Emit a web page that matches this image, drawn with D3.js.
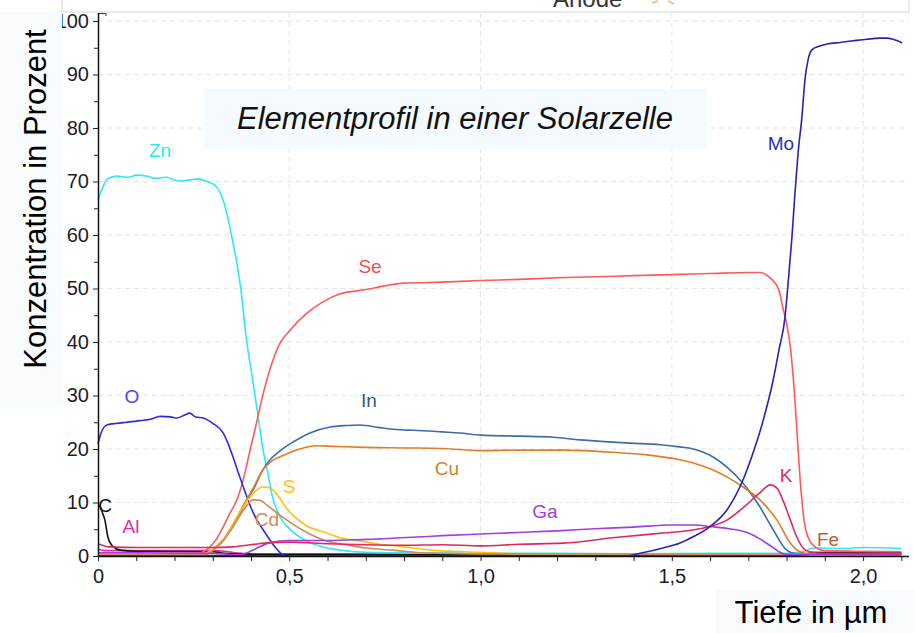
<!DOCTYPE html>
<html><head><meta charset="utf-8">
<script src="https://cdn.jsdelivr.net/npm/d3@7"></script>
<style>body{margin:0;background:#fff;} svg{display:block;font-family:"Liberation Sans",Arial,sans-serif;}</style>
</head><body><svg id="c" width="914" height="633"></svg>
<script>
// ---- data: [depth in µm, concentration in %] ----
const fe = [[0,0.1],[1.8,0.1],[1.84,0.3],[1.87,0.7],[2.1,0.6]];
const al = [[0,1.3],[0.02,1.0],[0.1,1.0],[0.3,1.0],[0.33,0.9],[0.36,0.6],[0.4,0.4],[0.5,0.3],[2.1,0.3]];
const c  = [[0,9.5],[0.005,9.3],[0.012,8],[0.018,6.7],[0.026,3.5],[0.04,1.7],[0.058,1.1],[0.1,0.9],[0.3,0.8],[0.33,0.5],[0.4,0.3],[0.6,0.3],[1.0,0.2],[1.85,0.2],[1.88,0.6],[2.0,0.6],[2.1,0.5]];
const zn = [[0,66.5],[0.01,68.5],[0.025,70.5],[0.05,71],[0.08,70.8],[0.1,71.2],[0.13,71],[0.15,70.6],[0.18,70.8],[0.2,70.3],[0.22,70.1],[0.24,70.3],[0.26,70.5],[0.285,70],[0.306,69.3],[0.322,67.5],[0.337,64],[0.353,58.5],[0.366,53.5],[0.376,48.4],[0.384,42.8],[0.392,38.5],[0.403,33.5],[0.416,27.3],[0.43,20.5],[0.442,16.2],[0.457,10.8],[0.47,8.2],[0.481,6.7],[0.505,4.8],[0.528,3.5],[0.558,2.4],[0.588,1.7],[0.633,1.1],[0.7,0.7],[0.8,0.6],[1.0,0.5],[1.2,0.5],[1.4,0.4],[1.6,0.5],[1.8,0.5],[1.84,0.7],[1.87,1.5],[1.95,1.4],[2.0,1.6],[2.1,1.4]];
const se = [[0,0.2],[0.25,0.2],[0.27,0.6],[0.293,1.7],[0.31,3.2],[0.327,5.4],[0.345,8],[0.363,10.5],[0.384,15.5],[0.395,19],[0.41,23.5],[0.429,29.5],[0.449,34.8],[0.476,39.8],[0.502,42.2],[0.546,45.4],[0.588,47.5],[0.633,49],[0.7,49.8],[0.75,50.5],[0.8,51],[0.9,51.2],[1.0,51.5],[1.1,51.7],[1.2,52],[1.3,52.2],[1.4,52.4],[1.5,52.6],[1.6,52.8],[1.7,53],[1.73,53],[1.757,52],[1.78,49.7],[1.79,46.5],[1.8,43.5],[1.81,39],[1.822,29],[1.83,20],[1.838,12],[1.846,6.5],[1.856,3.5],[1.87,2],[1.9,1],[2.1,0.8]];
const o  = [[0,21],[0.008,23],[0.023,24.5],[0.05,24.8],[0.075,25],[0.11,25.3],[0.14,25.6],[0.162,26.1],[0.19,26],[0.206,25.8],[0.225,26.3],[0.24,26.7],[0.255,26],[0.275,25.8],[0.3,24.8],[0.327,23],[0.34,21],[0.353,18.5],[0.367,15.5],[0.38,12.9],[0.405,8.2],[0.44,4],[0.465,1.5],[0.484,0.2],[0.5,0]];
const inn = [[0,0],[0.27,0],[0.293,0.8],[0.31,1.8],[0.327,3],[0.34,4.2],[0.353,5.5],[0.367,7.3],[0.38,9.2],[0.392,10.8],[0.405,12.3],[0.43,16],[0.45,18],[0.468,19.2],[0.49,20.4],[0.51,21.3],[0.554,23],[0.607,24.1],[0.65,24.4],[0.685,24.5],[0.737,24],[0.79,23.6],[0.825,23.5],[0.9,23.2],[0.946,23],[1.0,22.6],[1.1,22.4],[1.19,22.2],[1.26,21.7],[1.39,21.1],[1.47,20.8],[1.52,20.4],[1.556,20],[1.608,18.5],[1.644,16.6],[1.686,13.6],[1.73,9.2],[1.765,4.9],[1.8,1.1],[1.827,0.4],[1.9,0.3],[2.1,0.3]];
const cu = [[0,0],[0.27,0],[0.293,0.8],[0.31,1.8],[0.327,3],[0.353,5.8],[0.38,9.5],[0.405,12.6],[0.43,16],[0.455,17.8],[0.484,18.8],[0.528,20],[0.572,20.6],[0.614,20.5],[0.7,20.3],[0.8,20.2],[0.9,20.1],[1.0,19.7],[1.1,19.8],[1.215,19.8],[1.346,19.4],[1.435,18.9],[1.52,18],[1.556,17.4],[1.6,16.3],[1.644,14.8],[1.686,12.9],[1.73,10.5],[1.775,6.7],[1.81,2.4],[1.835,0.8],[1.87,0.3],[2.1,0.3]];
const s  = [[0,0.3],[0.27,0.3],[0.293,1],[0.327,3],[0.363,7.3],[0.392,10.5],[0.41,12],[0.43,12.9],[0.445,12.8],[0.458,12.3],[0.475,10.8],[0.494,8.8],[0.51,7.6],[0.546,5.6],[0.59,4.5],[0.633,3.4],[0.685,2.8],[0.737,2.2],[0.79,1.8],[0.87,1.1],[1.0,0.7],[1.1,0.4],[1.5,0.3],[1.8,0.3],[2.1,0.2]];
const cd = [[0,0.3],[0.28,0.3],[0.3,1],[0.327,2.8],[0.353,5.5],[0.38,8.5],[0.405,10.5],[0.425,10.4],[0.44,9.6],[0.458,8.6],[0.48,7.4],[0.502,6.3],[0.546,4.4],[0.607,2.6],[0.64,2.2],[0.7,1.5],[0.77,1.1],[0.85,0.6],[1.0,0.4],[2.1,0.3]];
const ga = [[0,0.6],[0.1,0.6],[0.3,0.5],[0.34,0.3],[0.37,0.2],[0.39,0.6],[0.416,1.5],[0.45,2.5],[0.5,2.9],[0.6,2.9],[0.7,3.1],[0.74,3.2],[0.79,3.4],[0.85,3.6],[0.9,3.8],[1.0,4.1],[1.1,4.4],[1.2,4.7],[1.3,5.1],[1.4,5.4],[1.5,5.8],[1.56,5.8],[1.6,5.5],[1.65,5.1],[1.7,4.3],[1.73,3.2],[1.76,1.8],[1.78,0.8],[1.8,0.3],[2.1,0.2]];
const k  = [[0,2.3],[0.03,1.7],[0.1,1.6],[0.3,1.6],[0.35,1.7],[0.4,2.1],[0.45,2.5],[0.5,2.6],[0.6,2.3],[0.7,2.1],[0.8,2.0],[0.9,2.1],[1.0,1.9],[1.1,2.2],[1.215,2.4],[1.346,3.4],[1.477,4.3],[1.55,4.8],[1.6,5.5],[1.644,6.7],[1.686,9],[1.73,11.8],[1.757,13.3],[1.775,12.7],[1.79,10.5],[1.81,6.7],[1.827,3.5],[1.843,1.5],[1.86,0.8],[1.9,0.5],[2.1,0.5]];
const mo = [[0,0],[1.38,0],[1.417,0.5],[1.477,1.5],[1.52,2.4],[1.556,3.6],[1.6,5.5],[1.644,8.6],[1.686,14.2],[1.712,19.2],[1.739,25.4],[1.765,32.9],[1.78,38.5],[1.796,44.7],[1.804,51],[1.814,59.6],[1.822,67.9],[1.83,75.3],[1.84,82],[1.848,89],[1.856,92.7],[1.866,94.6],[1.885,95.3],[1.906,95.7],[1.94,96],[1.974,96.3],[2.01,96.6],[2.044,96.8],[2.06,96.8],[2.078,96.6],[2.09,96.3],[2.102,95.9]];

const seriesNames = ["Fe","Al","C","Zn","Se","O","In","Cu","S","Cd","Ga","K","Mo"];
const seriesData  = [fe, al, c, zn, se, o, inn, cu, s, cd, ga, k, mo];

const xMajorTicks = [0, 0.5, 1.0, 1.5, 2.0];
const xMinorTicks = [0.1,0.2,0.3,0.4,0.6,0.7,0.8,0.9,1.1,1.2,1.3,1.4,1.6,1.7,1.8,1.9,2.1];
const yMajorTicks = [0,10,20,30,40,50,60,70,80,90,100];
const yMinorTicks = [5,15,25,35,45,55,65,75,85,95];

// ---- styles ----
const colors = {Fe:"#b4502a",Al:"#e32aa0",C:"#111111",Zn:"#2ee8f5",Se:"#ff5a5a",O:"#2b2bea",In:"#3a6ea8",Cu:"#e07d24",S:"#ffc010",Cd:"#cf8a5c",Ga:"#a23ce6",K:"#dd2a5e",Mo:"#2525b5"};
const labelColors = {Fe:"#c06030",Al:"#e030a0",C:"#111",Zn:"#30e4f4",Se:"#f05050",O:"#4848f0",In:"#2f5a8a",Cu:"#d9822b",S:"#ffc020",Cd:"#d08a5a",Ga:"#a040e0",K:"#d83060",Mo:"#3030c0"};
const labelPos = {Zn:[160,157],Se:[370,273],O:[132,403],In:[369,407],Cu:[447,475],S:[289,493],Cd:[267,526],Ga:[545,518],K:[786,482],Fe:[828,546],Mo:[781,150],C:[105,512],Al:[131,533]};

const svg = d3.select("#c");
const x = d3.scaleLinear().domain([0, 2.12]).range([98, 909]);
const y = d3.scaleLinear().domain([0, 101.5]).range([556, 13]);

// header box
svg.append("rect").attr("x",62).attr("y",-1).attr("width",847).attr("height",13)
  .attr("fill","#fff").attr("stroke","#d6d6d6");
svg.append("text").attr("x",553).attr("y",7).attr("font-size",24).attr("fill","#333").text("Anode");
svg.append("path").attr("d","M652,3 L658,1 M668,1 L674,4").attr("stroke","#e8b890").attr("stroke-width",1.5).attr("fill","none");

// grid
const grid = svg.append("g").attr("stroke","#e4e4e4").attr("stroke-dasharray","5,4").attr("stroke-width",1);
grid.selectAll("line.v").data(xMajorTicks.filter(d=>d>0)).join("line")
  .attr("x1",d=>x(d)).attr("x2",d=>x(d)).attr("y1",y(101.5)).attr("y2",y(0));
grid.selectAll("line.h").data(yMajorTicks.filter(d=>d>0)).join("line")
  .attr("x1",x(0)).attr("x2",x(2.12)).attr("y1",d=>y(d)).attr("y2",d=>y(d));

// title box
svg.append("rect").attr("x",204).attr("y",89).attr("width",503).attr("height",60).attr("fill","#f4fafd");
svg.append("text").attr("x",455).attr("y",129).attr("text-anchor","middle").attr("font-size",31)
  .attr("font-style","italic").attr("fill","#111").text("Elementprofil in einer Solarzelle");

// lines
const line = d3.line().x(d=>x(d[0])).y(d=>y(d[1])).curve(d3.curveMonotoneX);
const lg = svg.append("g").attr("fill","none").attr("stroke-width",1.6).attr("stroke-linejoin","round");
seriesNames.forEach((n,i)=>{
  lg.append("path").datum(seriesData[i]).attr("d",line).attr("stroke",colors[n]);
});

// axes
const fmt = d => d===0 ? "0" : d3.format(".1f")(d).replace(".",",");
const xAxis = svg.append("g").attr("transform","translate(0,556)")
  .call(d3.axisBottom(x).tickValues(xMajorTicks).tickSize(5).tickPadding(8).tickFormat(fmt));
svg.append("g").attr("transform","translate(0,556)")
  .call(d3.axisBottom(x).tickValues(xMinorTicks).tickSize(5).tickFormat(""))
  .call(g=>g.select(".domain").remove());
const yAxis = svg.append("g").attr("transform","translate(98,0)")
  .call(d3.axisLeft(y).tickValues(yMajorTicks).tickSize(5).tickPadding(4).tickFormat(d3.format("d")));
svg.append("g").attr("transform","translate(98,0)")
  .call(d3.axisLeft(y).tickValues(yMinorTicks).tickSize(4).tickFormat(""))
  .call(g=>g.select(".domain").remove());
svg.selectAll(".domain").attr("stroke","#111").attr("stroke-width",1.5);
svg.selectAll(".tick line").attr("stroke","#222");
svg.selectAll(".tick text").attr("font-size",20).attr("fill","#1c1c2c").attr("font-family","'Liberation Sans',Arial,sans-serif");
xAxis.selectAll(".domain").attr("d","M98.5,0.5H909");
yAxis.selectAll(".domain").attr("d","M0.5,556V13");
svg.append("path").attr("d","M99,13.5H106V16").attr("stroke","#333").attr("fill","none");

// series labels
svg.append("g").selectAll("text").data(seriesNames).join("text")
  .attr("x",n=>labelPos[n][0]).attr("y",n=>labelPos[n][1]).attr("text-anchor","middle")
  .attr("font-size",19).attr("fill",n=>labelColors[n]).text(n=>n);

// y label box
svg.append("rect").attr("x",0).attr("y",12).attr("width",62).attr("height",395).attr("fill","#f9fcfd");
svg.append("text").attr("transform","translate(46,199) rotate(-90)").attr("text-anchor","middle")
  .attr("font-size",31).attr("fill","#000").text("Konzentration in Prozent");

// x label box
svg.append("rect").attr("x",716).attr("y",590).attr("width",198).attr("height",43).attr("fill","#f8fbfd");
svg.append("text").attr("x",811).attr("y",623).attr("text-anchor","middle")
  .attr("font-size",31).attr("fill","#000").text("Tiefe in µm");
</script></body></html>
